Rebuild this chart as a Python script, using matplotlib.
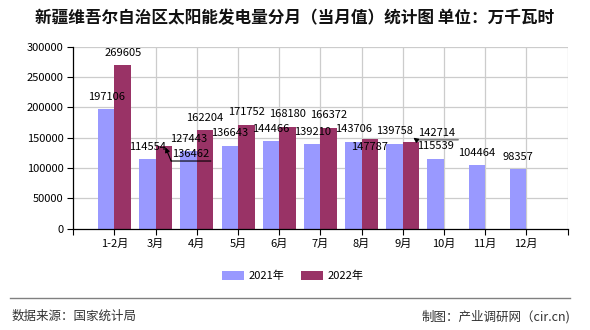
import matplotlib
matplotlib.use("Agg")
import matplotlib.pyplot as plt
from matplotlib.patches import Patch
from matplotlib.lines import Line2D
from matplotlib.transforms import offset_copy
import numpy as np

plt.rcParams['font.family'] = ['Noto Sans CJK SC', 'DejaVu Sans']

# ---- data ----
categories = ['1-2月', '3月', '4月', '5月', '6月', '7月', '8月', '9月', '10月', '11月', '12月']
values_2021 = [197106, 114554, 127443, 136643, 144466, 139210, 143706, 139758, 115539, 104464, 98357]
values_2022 = [269605, 136462, 162204, 171752, 168180, 166372, 147787, 142714]
series_names = ['2021年', '2022年']
y_ticks = [0, 50000, 100000, 150000, 200000, 250000, 300000]
title = '新疆维吾尔自治区太阳能发电量分月（当月值）统计图 单位：万千瓦时'
source_text = '数据来源：国家统计局'
credit_text = '制图：产业调研网（cir.cn)'

# ---- style ----
c21 = '#9999FF'
c22 = '#993366'
W, H, DPI = 590, 330, 100
fs = 8

fig = plt.figure(figsize=(W / DPI, H / DPI), dpi=DPI)
ax = fig.add_axes([73.3 / W, 1 - 228.7 / H, (567.5 - 73.3) / W, (228.7 - 46.7) / H])

n = len(categories)
x = np.arange(n)
bw = 0.4
x21 = x - bw / 2
x22 = x[:len(values_2022)] + bw / 2
ax.bar(x21, values_2021, width=bw, color=c21, zorder=3)
ax.bar(x22, values_2022, width=bw, color=c22, zorder=3)

ax.set_xlim(-1, n)
ax.set_ylim(0, 300000)
ax.set_yticks(y_ticks)
ax.set_yticklabels([str(v) for v in y_ticks], fontsize=fs)
ax.set_xticks(list(x) + [-1, n])
ax.set_xticklabels(categories + ['', ''], fontsize=fs)
ax.tick_params(axis='both', direction='out', length=4, width=0.8, color='black', pad=3)

# grid
for yv in y_ticks[1:]:
    ax.axhline(yv, color='#cccccc', lw=0.9, zorder=1)
for xv in range(1, n + 1):
    ax.axvline(xv, color='#cccccc', lw=0.9, zorder=1)

for s in ['top', 'right']:
    ax.spines[s].set_visible(False)
for s in ['left', 'bottom']:
    ax.spines[s].set_color('black')
    ax.spines[s].set_linewidth(0.9)
    ax.spines[s].set_zorder(4)

# ---- data labels ----
default_off = (0, 12.5)
special_off = {('2022', 1): (26.3, -8.1), ('2022', 6): (0, -8.3), ('2022', 7): (26, 9.5)}

def label(xs, vals, key):
    for i, (xx, v) in enumerate(zip(xs, vals)):
        off = special_off.get((key, i), default_off)
        ax.annotate(str(v), xy=(xx, v), xycoords='data', xytext=off,
                    textcoords='offset pixels', ha='center', va='center',
                    fontsize=fs, color='black', zorder=6)

label(x21, values_2021, '2021')
label(x22, values_2022, '2022')

def tr(dx, dy):
    return offset_copy(ax.transData, fig=fig, x=dx, y=dy, units='dots')

# leader for 2022 3月
xa, va = x22[1], values_2022[1]
ax.annotate('', xy=(xa, va), xycoords=tr(1.5, -1.5), xytext=(xa, va), textcoords=tr(7.3, -15.1),
            arrowprops=dict(arrowstyle='-|>', color='black', lw=0.8, mutation_scale=7,
                            shrinkA=0, shrinkB=0), zorder=6)
ax.annotate('', xy=(xa, va), xycoords=tr(47, -15.1), xytext=(xa, va), textcoords=tr(7.3, -15.1),
            arrowprops=dict(arrowstyle='-', color='black', lw=0.8, shrinkA=0, shrinkB=0), zorder=6)
# leader for 2022 9月
xb, vb = x22[7], values_2022[7]
ax.annotate('', xy=(xb, vb), xycoords=tr(47, 2.4), xytext=(xb, vb), textcoords=tr(6, 2.4),
            arrowprops=dict(arrowstyle='-', color='#808080', lw=1.3, shrinkA=0, shrinkB=0), zorder=6)
ax.annotate('', xy=(xb, vb), xycoords=tr(2.4, 4.4), xytext=(xb, vb), textcoords=tr(7, 1.0),
            arrowprops=dict(arrowstyle='-|>', color='black', lw=0.8, mutation_scale=7,
                            shrinkA=0, shrinkB=0), zorder=6)

# ---- title ----
fig.text(0.5, 1 - 18 / H, title, ha='center', va='center', fontsize=12, weight='bold', color='#111111')

# ---- legend ----
handles = [Patch(facecolor=c21, edgecolor='none'), Patch(facecolor=c22, edgecolor='none')]
fig.legend(handles, series_names, loc='center', bbox_to_anchor=(293 / W, 1 - 276 / H),
           ncol=2, frameon=False, fontsize=fs, handlelength=2.0, handleheight=0.9,
           handletextpad=0.4, columnspacing=1.5)

# ---- footer ----
fig.add_artist(Line2D([10 / W, 570 / W], [1 - 298.3 / H] * 2, color='#808080', lw=1.0))
fig.text(11.5 / W, 1 - 316.7 / H, source_text, ha='left', va='center', fontsize=9, color='#333333')
fig.text(570 / W, 1 - 316.7 / H, credit_text, ha='right', va='center', fontsize=9, color='#333333')

fig.savefig('out.png', dpi=DPI)
